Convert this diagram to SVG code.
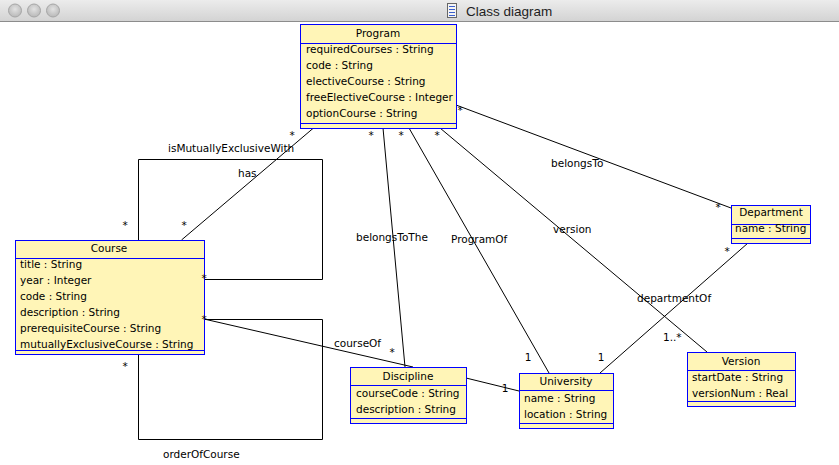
<svg xmlns="http://www.w3.org/2000/svg" width="839" height="465" viewBox="0 0 839 465">
<defs>
<linearGradient id="bar" x1="0" y1="0" x2="0" y2="1">
<stop offset="0" stop-color="#ececec"/>
<stop offset="1" stop-color="#d2d2d2"/>
</linearGradient>
<radialGradient id="dot" cx="0.5" cy="0.4" r="0.6">
<stop offset="0" stop-color="#e2e2e2"/>
<stop offset="1" stop-color="#b8b8b8"/>
</radialGradient>
</defs>
<style>
.box{fill:#FFF5B7;stroke:#0000FF;stroke-width:1}
.sep{stroke:#0000FF;stroke-width:1}
.t{font-family:"DejaVu Sans","Liberation Sans",sans-serif;font-size:10.5px;fill:#000}
.c{text-anchor:middle}
.conn{stroke:#000;stroke-width:1;fill:none}
</style>
<rect x="0" y="0" width="839" height="465" fill="#ffffff"/>
<g id="titlebar">
<rect x="0" y="0" width="839" height="22" fill="url(#bar)"/>
<line x1="0" y1="21.5" x2="839" y2="21.5" stroke="#8c8c8c"/>
<circle cx="15" cy="10.5" r="6.5" fill="url(#dot)" stroke="#a6a6a6"/>
<circle cx="34" cy="10.5" r="6.5" fill="url(#dot)" stroke="#a6a6a6"/>
<circle cx="53" cy="10.5" r="6.5" fill="url(#dot)" stroke="#a6a6a6"/>
<rect x="447.5" y="3.5" width="9" height="14" fill="#f4f4f4" stroke="#666"/>
<line x1="449" y1="6.5" x2="455" y2="6.5" stroke="#3a5fcd"/>
<line x1="449" y1="9.5" x2="455" y2="9.5" stroke="#3a5fcd"/>
<line x1="449" y1="12.5" x2="455" y2="12.5" stroke="#3a5fcd"/>
<line x1="449" y1="15.5" x2="455" y2="15.5" stroke="#3a5fcd"/>
<text x="466" y="16" font-family="Liberation Sans, sans-serif" font-size="13.5" fill="#1e1e1e">Class diagram</text>
</g>
<g id="connectors">
<line class="conn" x1="181.5" y1="240" x2="313.5" y2="128"/>
<polyline class="conn" points="138.5,240 138.5,159.5 322.5,159.5 322.5,279.5 204,279.5"/>
<polyline class="conn" points="204,319.5 322.5,319.5 322.5,439.5 138.5,439.5 138.5,354"/>
<line class="conn" x1="204" y1="319" x2="413" y2="367"/>
<line class="conn" x1="383" y1="128" x2="405" y2="367"/>
<line class="conn" x1="409" y1="128" x2="549" y2="373"/>
<line class="conn" x1="440" y1="128" x2="707" y2="352"/>
<line class="conn" x1="456" y1="105" x2="731" y2="208"/>
<line class="conn" x1="748" y1="243" x2="600" y2="373"/>
<line class="conn" x1="466" y1="378" x2="519" y2="391"/>
</g>
<g id="Program">
<rect class="box" x="300.5" y="24.5" width="156" height="104"/>
<line class="sep" x1="300.5" y1="43.5" x2="456.5" y2="43.5"/>
<line class="sep" x1="300.5" y1="123.5" x2="456.5" y2="123.5"/>
<text class="t c" x="378" y="37">Program</text>
<text class="t" x="306" y="53">requiredCourses : String</text>
<text class="t" x="306" y="69">code : String</text>
<text class="t" x="306" y="85">electiveCourse : String</text>
<text class="t" x="306" y="101">freeElectiveCourse : Integer</text>
<text class="t" x="306" y="117">optionCourse : String</text>
</g>
<g id="Course">
<rect class="box" x="15.5" y="240.5" width="189" height="114"/>
<line class="sep" x1="15.5" y1="258.5" x2="204.5" y2="258.5"/>
<line class="sep" x1="15.5" y1="350.5" x2="204.5" y2="350.5"/>
<text class="t c" x="109" y="252">Course</text>
<text class="t" x="20" y="268">title : String</text>
<text class="t" x="20" y="284">year : Integer</text>
<text class="t" x="20" y="300">code : String</text>
<text class="t" x="20" y="316">description : String</text>
<text class="t" x="20" y="332">prerequisiteCourse : String</text>
<text class="t" x="20" y="348">mutuallyExclusiveCourse : String</text>
</g>
<g id="Discipline">
<rect class="box" x="350.5" y="367.5" width="116" height="56"/>
<line class="sep" x1="350.5" y1="385.5" x2="466.5" y2="385.5"/>
<line class="sep" x1="350.5" y1="418.5" x2="466.5" y2="418.5"/>
<text class="t c" x="408" y="380">Discipline</text>
<text class="t" x="356" y="397">courseCode : String</text>
<text class="t" x="356" y="413">description : String</text>
</g>
<g id="University">
<rect class="box" x="519.5" y="373.5" width="94" height="55"/>
<line class="sep" x1="519.5" y1="390.5" x2="613.5" y2="390.5"/>
<line class="sep" x1="519.5" y1="423.5" x2="613.5" y2="423.5"/>
<text class="t c" x="566" y="385">University</text>
<text class="t" x="524" y="402">name : String</text>
<text class="t" x="524" y="418">location : String</text>
</g>
<g id="Department">
<rect class="box" x="731.5" y="205.5" width="79" height="38"/>
<line class="sep" x1="731.5" y1="224.5" x2="810.5" y2="224.5"/>
<line class="sep" x1="731.5" y1="238.5" x2="810.5" y2="238.5"/>
<text class="t c" x="771" y="216">Department</text>
<text class="t" x="735" y="232">name : String</text>
</g>
<g id="Version">
<rect class="box" x="687.5" y="352.5" width="108" height="54"/>
<line class="sep" x1="687.5" y1="370.5" x2="795.5" y2="370.5"/>
<line class="sep" x1="687.5" y1="401.5" x2="795.5" y2="401.5"/>
<text class="t c" x="741" y="365">Version</text>
<text class="t" x="692" y="381">startDate : String</text>
<text class="t" x="692" y="397">versionNum : Real</text>
</g>
<g id="connector-labels">
<text class="t" x="168" y="152">isMutuallyExclusiveWith</text>
<text class="t" x="238" y="177">has</text>
<text class="t" x="163" y="458">orderOfCourse</text>
<text class="t" x="334" y="347">courseOf</text>
<text class="t" x="356" y="241">belongsToThe</text>
<text class="t" x="451" y="243">ProgramOf</text>
<text class="t" x="553" y="233">version</text>
<text class="t" x="551" y="167">belongsTo</text>
<text class="t" x="637" y="302">departmentOf</text>
<text class="t" x="663" y="341">1..*</text>
<text class="t c" x="125" y="229">*</text>
<text class="t c" x="184" y="229">*</text>
<text class="t c" x="204" y="282">*</text>
<text class="t c" x="292" y="139">*</text>
<text class="t c" x="204" y="323">*</text>
<text class="t c" x="125" y="370">*</text>
<text class="t c" x="392" y="356">*</text>
<text class="t c" x="371" y="139">*</text>
<text class="t c" x="401" y="139">*</text>
<text class="t c" x="437" y="139">*</text>
<text class="t c" x="460" y="114">*</text>
<text class="t c" x="718" y="211">*</text>
<text class="t c" x="727" y="255">*</text>
<text class="t c" x="528" y="361">1</text>
<text class="t c" x="601" y="361">1</text>
<text class="t c" x="505" y="392">1</text>
</g>
</svg>
